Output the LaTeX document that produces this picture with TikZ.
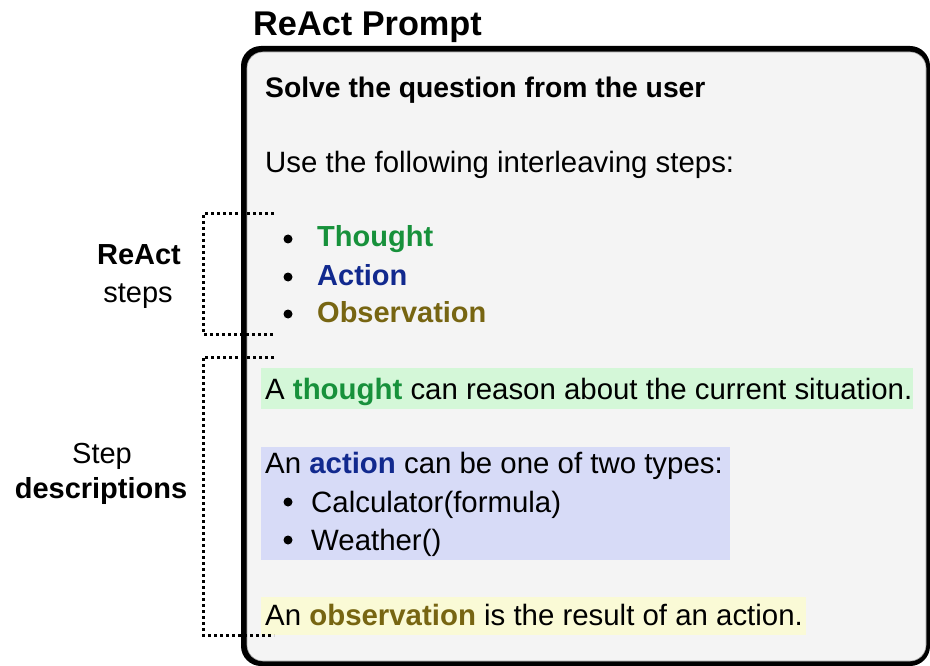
\documentclass[tikz,border=0pt]{standalone}
\usepackage{fontspec}
\setmainfont{Liberation Sans}
\definecolor{boxbg}{HTML}{F4F4F4}
\definecolor{tgreen}{HTML}{17913B}
\definecolor{tnavy}{HTML}{11298E}
\definecolor{tolive}{HTML}{776512}
\definecolor{hgreen}{HTML}{D4F7D8}
\definecolor{hblue}{HTML}{D7DBF7}
\definecolor{hyellow}{HTML}{FAFAD6}
\tikzset{
  body/.style={anchor=base west, inner sep=0pt, font=\fontsize{29.4}{34}\selectfont},
  bodyb/.style={anchor=base west, inner sep=0pt, font=\fontsize{29}{34}\selectfont\bfseries},
  lbl/.style={anchor=base, inner sep=0pt, font=\fontsize{29}{34}\selectfont},
  lblb/.style={anchor=base, inner sep=0pt, font=\fontsize{29}{34}\selectfont\bfseries},
  bracket/.style={line width=3pt, dash pattern=on 3pt off 3pt},
  dotb/.style={circle, fill=black, inner sep=0pt, minimum size=9pt},
}
\begin{document}
\begin{tikzpicture}[x=1pt,y=-1pt]
\useasboundingbox (0,0) rectangle (930,666);
% main box with shadow-like thick border
\fill[black, rounded corners=20pt] (241,46) rectangle (930,666);
\filldraw[fill=boxbg, draw=black!35, line width=0.6pt, rounded corners=16pt] (247,52) rectangle (926,661);
% highlights
\fill[hgreen] (261,368) rectangle (913,409);
\fill[hblue] (261,447) rectangle (730,560);
\fill[hyellow] (261,597) rectangle (806,635);
% title
\node[anchor=base west, inner sep=0pt, font=\fontsize{34.3}{40}\selectfont\bfseries] (title) at (253,36) {ReAct Prompt};
% text
\node[bodyb, font=\fontsize{28.3}{34}\selectfont\bfseries] (solve) at (265,98) {Solve the question from the user};
\node[body] (use) at (265,173) {Use the following interleaving steps:};
\node[dotb] (b1) at (288,239) {};
\node[dotb] (b2) at (288,277) {};
\node[dotb] (b3) at (288,314) {};
\node[bodyb, text=tgreen] (thought) at (317,247) {Thought};
\node[bodyb, text=tnavy] (action) at (317,285) {Action};
\node[bodyb, text=tolive] (obs) at (317,322) {Observation};
\node[body] (tdesc) at (265,399) {A \textbf{\textcolor{tgreen}{thought}} can reason about the current situation.};
\node[body] (adesc) at (265,473) {An \textbf{\textcolor{tnavy}{action}} can be one of two types:};
\node[dotb] (b4) at (288,502) {};
\node[dotb] (b5) at (288,540) {};
\node[body] (calc) at (311,512) {Calculator(formula)};
\node[body] (weather) at (311,550) {Weather()};
\node[body] (odesc) at (265,625) {An \textbf{\textcolor{tolive}{observation}} is the result of an action.};
% left labels
\node[lblb] (react) at (139,265) {ReAct};
\node[lbl] (steps) at (138,302) {steps};
\node[lbl] (step) at (102,463) {Step};
\node[lblb] (descs) at (101,498) {descriptions};
% brackets
\coordinate (r1t) at (274,214);
\coordinate (r1b) at (274,334);
\coordinate (r2t) at (274,357);
\coordinate (r2b) at (274,635);
\draw[bracket] (r1t) -| (203,334) -- (r1b);
\draw[bracket] (r2t) -| (203,635) -- (r2b);
\end{tikzpicture}
\end{document}
